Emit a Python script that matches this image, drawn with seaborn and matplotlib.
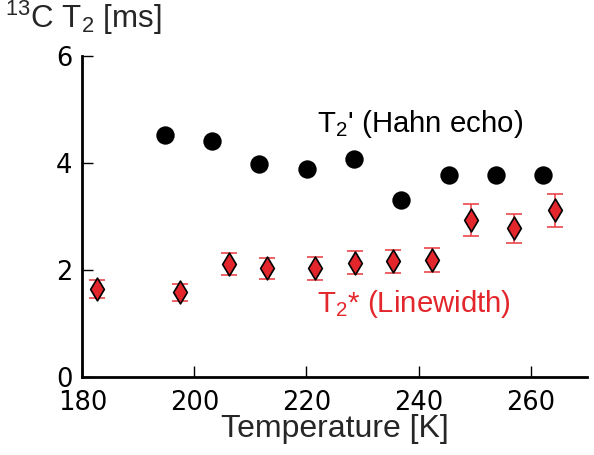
import numpy as np
import pandas as pd
import matplotlib
matplotlib.use("Agg")
import matplotlib.pyplot as plt
import seaborn as sns

# T2' (Hahn echo) - black circles
hahn_temp = [194.8, 203.1, 211.6, 220.1, 228.4, 236.9, 245.4, 253.8, 262.2]
hahn_t2 = [4.52, 4.42, 3.98, 3.89, 4.07, 3.31, 3.78, 3.78, 3.78]

# T2* (Linewidth) - red diamonds with error bars
lw_temp = [182.6, 197.4, 206.25, 212.9, 221.55, 228.6, 235.4, 242.4, 249.4, 257.1, 264.3]
lw_t2 = [1.64, 1.58, 2.11, 2.03, 2.03, 2.14, 2.16, 2.19, 2.93, 2.78, 3.12]
lw_err = [0.165, 0.16, 0.21, 0.20, 0.21, 0.22, 0.22, 0.22, 0.30, 0.27, 0.31]

x_ticks = [180, 200, 220, 240, 260]
y_ticks = [0, 2, 4, 6]

red = "#e3262b"

sns.set_style("ticks")
plt.rcParams["font.family"] = ["Liberation Sans", "DejaVu Sans"]
plt.rcParams["mathtext.default"] = "regular"

df_hahn = pd.DataFrame({"temp": hahn_temp, "t2": hahn_t2})
df_lw = pd.DataFrame({"temp": lw_temp, "t2": lw_t2, "err": lw_err})

fig = plt.figure(figsize=(5.94, 4.55), dpi=100)
ax = fig.add_axes([0.1386, 0.1714, 0.8491, 0.7055])

ax.errorbar(df_lw["temp"], df_lw["t2"], yerr=df_lw["err"], fmt="none",
            ecolor="#e8474b", elinewidth=1.2, capsize=6, capthick=1.2, zorder=2)
sns.scatterplot(data=df_lw, x="temp", y="t2", marker="d", s=135, color=red,
                edgecolor="black", linewidth=1.2, ax=ax, zorder=3)
sns.scatterplot(data=df_hahn, x="temp", y="t2", marker="o", s=175, color="black",
                edgecolor="black", linewidth=0, ax=ax, zorder=3)

ax.set_xlim(180, 270)
ax.set_ylim(0, 6)
ax.set_xticks(x_ticks)
ax.set_yticks(y_ticks)
ax.set_xticklabels([str(t) for t in x_ticks], fontfamily="DejaVu Sans", fontsize=18.5)
ax.set_yticklabels([str(t) for t in y_ticks], fontfamily="DejaVu Sans", fontsize=18.5)
ax.tick_params(direction="in", length=8, width=1, colors="black")
ax.tick_params(axis="x", pad=9)
ax.tick_params(axis="y", pad=7)
for side in ["top", "right"]:
    ax.spines[side].set_visible(False)
for side in ["left", "bottom"]:
    ax.spines[side].set_linewidth(2)
    ax.spines[side].set_color("black")

ax.set_xlabel("Temperature [K]", fontsize=23, labelpad=-1)
ax.set_ylabel("")
fig.text(0.008, 0.938, r"$^{13}$C T$_{2}$ [ms]", fontsize=22.5, va="baseline", ha="left")

ax.text(221.9, 4.58, r"T$_{2}$' (Hahn echo)", fontsize=21.2, va="baseline", ha="left",
        color="black")
ax.text(221.9, 1.22, r"T$_{2}$* (Linewidth)", fontsize=21.2, va="baseline", ha="left",
        color=red)

fig.savefig("out.png", dpi=100)
